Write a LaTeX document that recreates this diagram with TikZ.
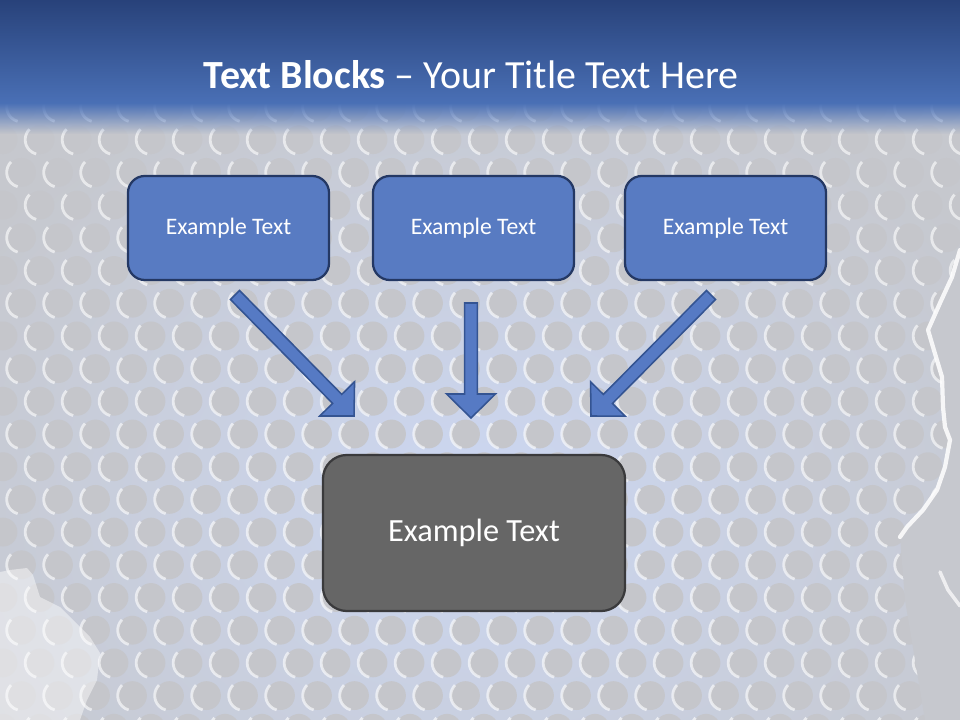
\documentclass[tikz,border=0pt]{standalone}
\usepackage{fontspec}
\setmainfont{Carlito}
\usetikzlibrary{calc,fadings}

\definecolor{bandtop}{RGB}{40,66,122}
\definecolor{bandlow}{RGB}{74,112,182}
\definecolor{bggrey}{RGB}{198,200,206}
\definecolor{gapblue}{RGB}{204,215,242}
\definecolor{dotgrey}{RGB}{197,198,203}
\definecolor{boxblue}{RGB}{88,123,194}
\definecolor{boxline}{RGB}{36,56,100}
\definecolor{arrblue}{RGB}{86,122,196}
\definecolor{arrline}{RGB}{52,84,146}
\definecolor{darkbox}{RGB}{102,102,102}
\definecolor{darkline}{RGB}{58,58,60}

% block arrow from #1 to the tip #2
\newcommand{\fatarrow}[2]{%
  \coordinate (#2-base) at ($(#2)!0.6cm!(#1)$);
  \filldraw[fatarr] ($(#1)!0.16cm!90:(#2)$) -- ($(#2-base)!0.16cm!90:(#2)$)
    -- ($(#2-base)!0.61cm!90:(#2)$) -- (#2) -- ($(#2-base)!0.61cm!-90:(#2)$)
    -- ($(#2-base)!0.16cm!-90:(#2)$) -- ($(#1)!0.16cm!-90:(#2)$) -- cycle;}

\begin{document}
\begin{tikzpicture}[
    x=0.025cm, y=-0.025cm,
    textblock/.style={draw=boxline, line width=1.6pt, rounded corners=12pt, fill=#1, text=white,
      minimum width=5.025cm, minimum height=2.6cm, font=\fontsize{16.8}{20}\selectfont},
    textblock/.default={boxblue},
    bigblock/.style={textblock=darkbox, draw=darkline, rounded corners=17pt,
      minimum width=7.55cm, minimum height=3.9cm, font=\fontsize{23}{27}\selectfont},
    titletext/.style={text=white, font=\fontsize{28.4}{34}\selectfont},
    fatarr/.style={fill=arrblue, draw=arrline, line width=1.1pt, line join=miter},
    crescent/.style={draw=white, line width=2pt, opacity=0.6},
]
\useasboundingbox (0,0) rectangle (960,720);

% ===== BACKGROUND =====
\fill[bggrey] (0,0) rectangle (960,720);
\shade[inner color=gapblue, outer color=bggrey] (480,500) ellipse[x radius=600, y radius=460];
\foreach \k in {0,...,19}{
  \foreach \i in {-1,...,25}{
    \pgfmathsetmacro{\cx}{40+37*\i+mod(\k+1,2)*18.5}
    \pgfmathsetmacro{\cy}{107+32.7*\k}
    \fill[dotgrey] (\cx,\cy) circle[radius=0.36cm];
    \draw[crescent] (\cx,\cy) ++(135:0.37cm) arc[start angle=135, end angle=255, radius=0.37cm];
  }
}
% torn edge on the right
\fill[bggrey] (960,250) -- (952,277) -- (940,303) -- (928,330) -- (933,347) -- (942,377)
  -- (943,407) -- (945,427) -- (950,440) -- (945,467) -- (937,490) -- (923,510) -- (907,527)
  -- (900,537) -- (905,600) -- (925,720) -- (960,720) -- cycle;
\draw[white, opacity=0.85, line width=3pt, line cap=round, line join=round]
  (960,250) -- (952,277) -- (940,303) -- (928,330) -- (933,347) -- (942,377)
  -- (943,407) -- (945,427) -- (950,440) -- (945,467) -- (937,490) -- (923,510) -- (907,527)
  -- (900,537);
\draw[white, opacity=0.7, line width=2.5pt, line cap=round] (940,572) -- (948,590) -- (960,606);
% stone on the lower left
\fill[white, opacity=0.45] (0,572) -- (10,570) -- (27,568) -- (33,575) -- (40,597) -- (60,607)
  -- (70,617) -- (90,637) -- (100,653) -- (97,680) -- (87,700) -- (80,720) -- (0,720) -- cycle;

% ===== TITLE BAND =====
\shade[top color=bandtop, bottom color=bandlow] (0,0) rectangle (960,104);
\fill[bandlow, path fading=south] (0,103) rectangle (960,134);
\node[titletext] (title) at (471,75) {\textbf{Text Blocks} – Your Title Text Here};

% ===== BLOCKS =====
\node[textblock] (left) at (228.5,228) {Example Text};
\node[textblock] (middle) at (473.5,228) {Example Text};
\node[textblock] (right) at (725.5,228) {Example Text};
\node[bigblock] (result) at (474,533) {Example Text};

% ===== ARROWS =====
\coordinate (leftfrom) at (235,295);
\coordinate (lefttip) at (354,416);
\coordinate (midfrom) at (471,303);
\coordinate (midtip) at (471,418);
\coordinate (rightfrom) at (711,295);
\coordinate (righttip) at (591,416);
\fatarrow{leftfrom}{lefttip}
\fatarrow{midfrom}{midtip}
\fatarrow{rightfrom}{righttip}

\end{tikzpicture}
\end{document}
